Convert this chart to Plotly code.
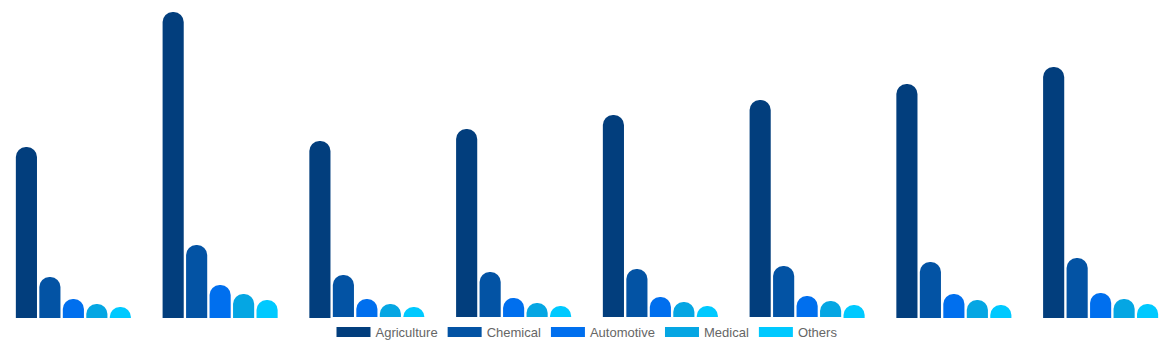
import plotly.graph_objects as go

categories = ["2017", "2018", "2019", "2020", "2021", "2022", "2023", "2024"]
series_names = ["Agriculture", "Chemical", "Automotive", "Medical", "Others"]
agriculture = [171, 306, 177, 189, 203, 218, 234, 251]
chemical = [41, 73, 43, 46, 49, 52, 56, 60]
automotive = [19, 33, 19, 20, 21, 22, 24, 25]
medical = [14, 24, 14, 15, 16, 17, 18, 19]
others = [11, 18, 11, 12, 12, 13, 13, 14]
colors = ["#023E7D", "#0353A4", "#006FEE", "#05A6E3", "#00C9FF"]

values = [agriculture, chemical, automotive, medical, others]

fig = go.Figure()
for name, vals, col in zip(series_names, values, colors):
    fig.add_trace(go.Bar(
        x=categories, y=vals, name=name, showlegend=False,
        marker=dict(color=col, line=dict(width=0)),
    ))
for name, col in zip(series_names, colors):
    fig.add_trace(go.Scatter(
        x=[None], y=[None], mode="lines", name=name,
        line=dict(color=col, width=11),
    ))

fig.update_layout(
    width=1174, height=350,
    margin=dict(l=0, r=0, t=10, b=32),
    paper_bgcolor="white", plot_bgcolor="white",
    barmode="group", bargap=0.2, bargroupgap=0.1,
    barcornerradius=10,
    xaxis=dict(visible=False, type="category"),
    yaxis=dict(visible=False, range=[0, 308]),
    legend=dict(orientation="h", x=0.5, xanchor="center", y=0.003, yanchor="top",
                font=dict(family="Liberation Sans, Arial", size=13, color="#666666"),
                itemwidth=34, tracegroupgap=0),
    font=dict(family="Liberation Sans, Arial"),
)
fig.write_html("out.html")
